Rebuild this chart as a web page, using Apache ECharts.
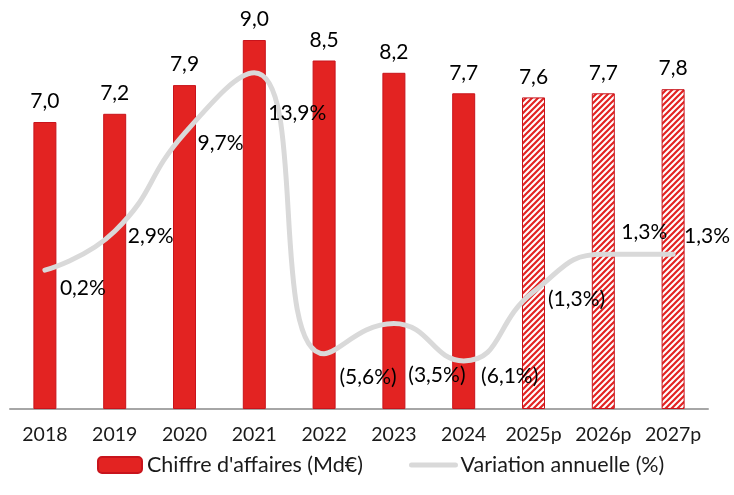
<!DOCTYPE html>
<html><head><meta charset="utf-8">
<script src="https://cdn.jsdelivr.net/npm/echarts@6/dist/echarts.min.js"></script>
<style>html,body{margin:0;padding:0;background:#fff}#c{width:734px;height:495px}</style>
</head><body><div id="c"></div>
<script>
// ---- data ----
const categories = ['2018','2019','2020','2021','2022','2023','2024','2025p','2026p','2027p'];
const revenue = [7.0, 7.2, 7.9, 9.0, 8.5, 8.2, 7.7, 7.6, 7.7, 7.8];
const variation = [0.2, 2.9, 9.7, 13.9, -5.6, -3.5, -6.1, -1.3, 1.3, 1.3];
const seriesNames = ["Chiffre d'affaires (Md€)", 'Variation annuelle (%)'];

// ---- layout / style ----
const FONT = 'Lato';
const RED = '#E32322';
const RED_BORDER = '#C8141C';
const labelOffsets = [[38,18],[36,5],[36,10],[43,40],[44,24],[43,52],[46,15],[43,7],[41,-22],[34,-18]];

function hatch() {
  const c = document.createElement('canvas');
  c.width = 6; c.height = 6;
  const g = c.getContext('2d');
  g.fillStyle = '#fff'; g.fillRect(0,0,6,6);
  g.strokeStyle = RED; g.lineWidth = 2.2;
  g.beginPath();
  g.moveTo(-3,3); g.lineTo(3,-3);
  g.moveTo(0,6); g.lineTo(6,0);
  g.moveTo(3,9); g.lineTo(9,3);
  g.stroke();
  return c;
}
const hatchPattern = { image: hatch(), repeat: 'repeat' };

const fmtNum = v => v.toFixed(1).replace('.', ',');
const fmtPct = v => v < 0 ? '(' + fmtNum(-v) + '%)' : fmtNum(v) + '%';

const barData = revenue.map((v, i) => {
  const forecast = /p$/.test(categories[i]);
  return forecast ? { value: v, itemStyle: { color: hatchPattern } } : { value: v };
});
const lineData = variation.map((v, i) => ({
  value: v,
  label: { offset: labelOffsets[i] }
}));

const chart = echarts.init(document.getElementById('c'), null, { renderer: 'canvas' });
chart.setOption({
  animation: false,
  textStyle: { fontFamily: FONT },
  grid: { left: 10, right: 26, top: 40, bottom: 86, containLabel: false },
  legend: {
    left: 92, top: 449,
    itemWidth: 44, itemHeight: 16, itemGap: 46,
    textStyle: { fontFamily: FONT, fontSize: 21.5, color: '#1a1a1a' },
    data: [
      { name: seriesNames[0] },
      { name: seriesNames[1], itemStyle: { opacity: 0 }, lineStyle: { width: 5, color: '#d9d9d9' } }
    ]
  },
  xAxis: {
    type: 'category',
    data: categories,
    axisLine: { lineStyle: { color: '#a6a6a6', width: 2 } },
    axisTick: { show: false },
    axisLabel: { interval: 0, color: '#1a1a1a', fontSize: 19.5, fontFamily: FONT, margin: 16 }
  },
  yAxis: [
    { type: 'value', min: 0, max: 9, show: false, splitLine: { show: false } },
    { type: 'value', min: -9.44, max: 16.18, show: false, splitLine: { show: false } }
  ],
  series: [
    {
      name: seriesNames[0],
      type: 'bar',
      data: barData,
      barWidth: 23,
      itemStyle: { color: RED, borderColor: RED_BORDER, borderWidth: 1 },
      label: {
        show: true, position: 'top', distance: 10,
        fontSize: 21, fontFamily: FONT, color: '#000',
        formatter: p => fmtNum(p.value)
      },
      z: 2
    },
    {
      name: seriesNames[1],
      type: 'line',
      yAxisIndex: 1,
      data: lineData,
      smooth: 0.5,
      symbol: 'circle',
      symbolSize: 1,
      itemStyle: { color: '#d9d9d9' },
      lineStyle: { color: '#d9d9d9', width: 5, cap: 'round' },
      label: {
        show: true, position: 'inside',
        fontSize: 21, fontFamily: FONT, color: '#000',
        formatter: p => fmtPct(p.value)
      },
      z: 3
    }
  ]
});
</script></body></html>
